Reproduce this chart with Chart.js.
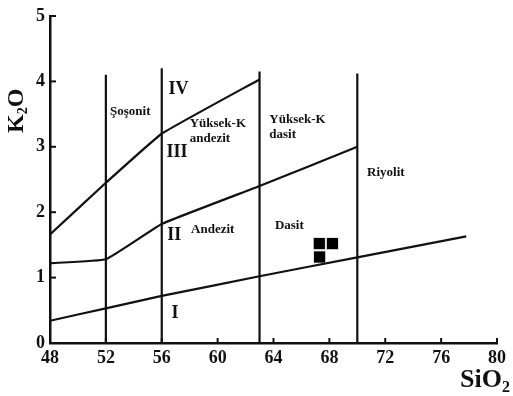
<!DOCTYPE html>
<html>
<head>
<meta charset="utf-8">
<script src="https://cdn.jsdelivr.net/npm/chart.js@4.4.1/dist/chart.umd.min.js"></script>
<style>
  html, body { margin: 0; padding: 0; background: #fff; }
  canvas { display: block; }
</style>
</head>
<body>
<canvas id="c" width="513" height="396"></canvas>
<script>
// Axis extents (SiO2 wt%, K2O wt%)
const sio2Range = [48, 80];
const k2oRange = [0, 5];

// Field boundaries as [SiO2, K2O] vertices
const lowKBoundary = [[48, 0.34], [52, 0.53], [56, 0.72], [63, 1.02], [70, 1.31], [77.8, 1.63]];
const calcAlkalineBoundary = [[48, 1.22], [52, 1.28], [56, 1.82], [63, 2.40], [70, 3.0]];
const highKBoundary = [[48, 1.66], [52, 2.45], [56, 3.2], [63, 4.03]];

// Vertical silica dividers: [SiO2, top K2O]
const silicaDividers = [[52, 4.1], [56, 4.2], [63, 4.15], [70, 4.12]];

// Analysed samples
const samples = [[67.28, 1.52], [68.22, 1.52], [67.3, 1.315]];

// Field names and series numerals, anchored in data units
const fieldNames = [
  ['Şoşonit', 52.3, 3.53],
  ['Yüksek-K', 58.0, 3.35],
  ['andezit', 58.0, 3.12],
  ['Yüksek-K', 63.7, 3.41],
  ['dasit', 63.7, 3.18],
  ['Andezit', 58.1, 1.74],
  ['Dasit', 64.1, 1.80],
  ['Riyolit', 70.7, 2.60]
];
const seriesNumerals = [
  ['IV', 57.2, 3.88],
  ['III', 57.1, 2.91],
  ['II', 56.9, 1.64],
  ['I', 56.95, 0.46]
];

const ink = '#111';
const serif = "'Liberation Serif', 'Times New Roman', serif";

const toPts = arr => arr.map(([x, y]) => ({ x, y }));
const lineSet = pts => ({
  data: toPts(pts),
  showLine: true,
  borderColor: ink,
  borderWidth: 2.2,
  pointRadius: 0,
  pointHoverRadius: 0,
  tension: 0.1,
  fill: false
});

const datasets = [
  lineSet(lowKBoundary),
  lineSet(calcAlkalineBoundary),
  lineSet(highKBoundary),
  ...silicaDividers.map(([sx, top]) => ({ ...lineSet([[sx, 0], [sx, top]]), tension: 0 })),
  {
    data: toPts(samples),
    showLine: false,
    pointStyle: 'rect',
    pointRadius: 8.6,
    pointHoverRadius: 8.6,
    backgroundColor: '#000',
    borderColor: '#fff',
    borderWidth: 0.8
  }
];

const overlay = {
  id: 'overlay',
  afterDraw(chart) {
    const { ctx, scales: { x, y } } = chart;
    ctx.save();

    // inward tick marks
    ctx.strokeStyle = ink;
    ctx.lineWidth = 2;
    x.ticks.forEach(t => {
      if (t.value === sio2Range[0]) return;
      const px = x.getPixelForValue(t.value);
      ctx.beginPath();
      ctx.moveTo(px, y.bottom);
      ctx.lineTo(px, y.bottom - 5);
      ctx.stroke();
    });
    y.ticks.forEach(t => {
      if (t.value === k2oRange[0]) return;
      const py = y.getPixelForValue(t.value);
      ctx.beginPath();
      ctx.moveTo(x.left, py);
      ctx.lineTo(x.left + 6, py);
      ctx.stroke();
    });

    ctx.fillStyle = ink;
    ctx.textBaseline = 'middle';

    // field names
    ctx.font = `bold 13px ${serif}`;
    ctx.textAlign = 'left';
    fieldNames.forEach(([txt, vx, vy]) => {
      ctx.fillText(txt, x.getPixelForValue(vx), y.getPixelForValue(vy));
    });

    // series numerals
    ctx.font = `bold 18px ${serif}`;
    ctx.textAlign = 'center';
    seriesNumerals.forEach(([txt, vx, vy]) => {
      ctx.fillText(txt, x.getPixelForValue(vx), y.getPixelForValue(vy));
    });

    // axis titles with subscripts
    ctx.textBaseline = 'alphabetic';
    ctx.textAlign = 'left';
    const drawSub = (base, sub, tail, size, sx, sy) => {
      ctx.font = `bold ${size}px ${serif}`;
      ctx.fillText(base, sx, sy);
      let cx = sx + ctx.measureText(base).width;
      ctx.font = `bold ${Math.round(size * 0.6)}px ${serif}`;
      ctx.fillText(sub, cx, sy + size * 0.18);
      cx += ctx.measureText(sub).width;
      if (tail) {
        ctx.font = `bold ${size}px ${serif}`;
        ctx.fillText(tail, cx, sy);
      }
    };
    drawSub('SiO', '2', '', 26, x.right - 37, y.bottom + 44);

    ctx.save();
    ctx.translate(23, y.top + 117);
    ctx.rotate(-Math.PI / 2);
    drawSub('K', '2', 'O', 24, 0, 0);
    ctx.restore();

    ctx.restore();
  }
};

new Chart(document.getElementById('c'), {
  type: 'scatter',
  data: { datasets },
  options: {
    responsive: false,
    animation: false,
    events: [],
    layout: { padding: { top: 16, right: 16, left: 0, bottom: 0 } },
    plugins: { legend: { display: false }, tooltip: { enabled: false } },
    scales: {
      x: {
        type: 'linear',
        min: sio2Range[0],
        max: sio2Range[1],
        afterFit: s => { s.height = 53; },
        ticks: {
          stepSize: 4,
          padding: 5,
          color: ink,
          font: { family: serif, size: 18, weight: 'bold' }
        },
        grid: { display: true, drawOnChartArea: false, drawTicks: false },
        border: { display: true, color: ink, width: 2.5 }
      },
      y: {
        type: 'linear',
        min: k2oRange[0],
        max: k2oRange[1],
        afterFit: s => { s.width = 50; },
        ticks: {
          stepSize: 1,
          padding: 5,
          color: ink,
          font: { family: serif, size: 18, weight: 'bold' }
        },
        grid: { display: true, drawOnChartArea: false, drawTicks: false },
        border: { display: true, color: ink, width: 2.5 }
      }
    }
  },
  plugins: [overlay]
});
</script>
</body>
</html>
